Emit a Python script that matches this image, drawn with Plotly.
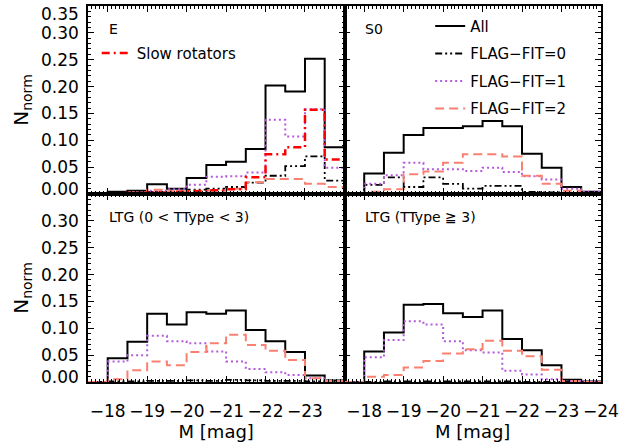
import plotly.graph_objects as go
from plotly.subplots import make_subplots

# ---------------- data ----------------
bin_edges = [-17.5, -18.0, -18.5, -19.0, -19.5, -20.0, -20.5,
             -21.0, -21.5, -22.0, -22.5, -23.0, -23.5, -24.0]

# E panel
e_all   = [0.000, 0.004, 0.006, 0.018, 0.010, 0.030, 0.054, 0.060, 0.084, 0.202, 0.191, 0.252, 0.087]
e_flag0 = [0.000, 0.001, 0.002, 0.004, 0.004, 0.008, 0.010, 0.013, 0.021, 0.034, 0.052, 0.070, 0.025]
e_flag1 = [0.000, 0.002, 0.003, 0.006, 0.009, 0.017, 0.032, 0.033, 0.040, 0.138, 0.107, 0.158, 0.049]
e_flag2 = [0.000, 0.002, 0.003, 0.008, 0.005, 0.006, 0.006, 0.010, 0.022, 0.028, 0.028, 0.019, 0.013]
e_slow  = [0.000, 0.001, 0.002, 0.003, 0.004, 0.005, 0.007, 0.009, 0.031, 0.074, 0.087, 0.157, 0.064]

# S0 panel
s0_all   = [0.000, 0.038, 0.077, 0.110, 0.123, 0.123, 0.126, 0.136, 0.126, 0.075, 0.049, 0.013, 0.004]
s0_flag0 = [0.000, 0.017, 0.031, 0.013, 0.031, 0.019, 0.010, 0.015, 0.015, 0.004, 0.003, 0.001, 0.000]
s0_flag1 = [0.000, 0.019, 0.035, 0.058, 0.046, 0.046, 0.043, 0.049, 0.041, 0.033, 0.027, 0.010, 0.004]
s0_flag2 = [0.001, 0.004, 0.009, 0.037, 0.042, 0.058, 0.074, 0.074, 0.070, 0.034, 0.019, 0.006, 0.002]

# LTG (0 < TType < 3)
l1_all   = [0.000, 0.044, 0.075, 0.127, 0.107, 0.130, 0.127, 0.133, 0.097, 0.076, 0.056, 0.012, 0.003]
l1_flag0 = [0.000, 0.001, 0.001, 0.002, 0.002, 0.003, 0.002, 0.004, 0.003, 0.002, 0.002, 0.001, 0.001]
l1_flag1 = [0.000, 0.038, 0.050, 0.086, 0.076, 0.072, 0.057, 0.038, 0.024, 0.018, 0.013, 0.007, 0.002]
l1_flag2 = [0.000, 0.005, 0.022, 0.038, 0.031, 0.056, 0.072, 0.088, 0.069, 0.058, 0.041, 0.007, 0.002]

# LTG (TType >= 3)
l2_all   = [0.000, 0.057, 0.092, 0.144, 0.145, 0.128, 0.121, 0.133, 0.080, 0.059, 0.031, 0.004, 0.001]
l2_flag0 = [0.000, 0.000, 0.001, 0.001, 0.001, 0.001, 0.001, 0.001, 0.001, 0.000, 0.000, 0.000, 0.000]
l2_flag1 = [0.000, 0.046, 0.078, 0.113, 0.107, 0.076, 0.059, 0.055, 0.021, 0.014, 0.005, 0.002, 0.001]
l2_flag2 = [0.000, 0.010, 0.013, 0.027, 0.039, 0.053, 0.061, 0.077, 0.058, 0.048, 0.023, 0.002, 0.000]

panel_labels = ["E", "S0", "LTG (0 < TType < 3)", "LTG (TType \u2267 3)"]
series_names = ["All", "FLAG\u2212FIT=0", "FLAG\u2212FIT=1", "FLAG\u2212FIT=2"]
slow_name = "Slow rotators"

x_tick_vals_left = [-18, -19, -20, -21, -22, -23]
x_tick_vals_right = [-18, -19, -20, -21, -22, -23, -24]
y_tick_vals = [0.05, 0.10, 0.15, 0.20, 0.25, 0.30]
y_tick_text = ["0.05", "0.10", "0.15", "0.20", "0.25", "0.30"]
y_end_labels = ["0.35", "0.00"]

x_title = "M [mag]"
y_title = "N<sub>norm</sub>"

# ---------------- styles ----------------
FONT = "DejaVu Sans"
TICK_SIZE = 17
styles = [
    dict(color="black", dash="solid", width=2),
    dict(color="black", dash="7px,3px,2px,3px,2px,3px", width=1.8),
    dict(color="#B45ADB", dash="2px,3px", width=2),
    dict(color="#FA8072", dash="9px,5px", width=2),
]
slow_style = dict(color="#FF0000", dash="8px,4px,2px,4px", width=2.5)

panels = [
    (1, 1, [e_all, e_flag0, e_flag1, e_flag2]),
    (1, 2, [s0_all, s0_flag0, s0_flag1, s0_flag2]),
    (2, 1, [l1_all, l1_flag0, l1_flag1, l1_flag2]),
    (2, 2, [l2_all, l2_flag0, l2_flag1, l2_flag2]),
]

fig = make_subplots(rows=2, cols=2, horizontal_spacing=0, vertical_spacing=0)


def step(vals):
    return list(vals) + [vals[-1]]


def mag_label(v):
    return "\u2212" + str(abs(v))


for (r, c, series) in panels:
    for k, vals in enumerate(series):
        fig.add_trace(go.Scatter(
            x=bin_edges, y=step(vals), mode="lines", line_shape="hv",
            line=styles[k], name=series_names[k],
            showlegend=(r == 1 and c == 2), legendgroup=f"g{k}",
            legend="legend",
        ), row=r, col=c)
    if r == 1 and c == 1:
        fig.add_trace(go.Scatter(
            x=bin_edges, y=step(e_slow), mode="lines", line_shape="hv",
            line=slow_style, name=slow_name, showlegend=True,
            legend="legend2",
        ), row=r, col=c)

axis_common = dict(
    showline=True, linecolor="black", linewidth=1.5, mirror="ticks",
    ticks="inside", ticklen=6, tickwidth=1.3, tickcolor="black",
    showgrid=False, zeroline=False,
    tickfont=dict(family=FONT, size=TICK_SIZE, color="black"),
)

for i, (r, c, _) in enumerate(panels):
    xt = x_tick_vals_left if c == 1 else x_tick_vals_right
    fig.update_xaxes(
        range=[bin_edges[0], bin_edges[-1] - 0.002],
        tickmode="array", tickvals=xt, ticktext=[mag_label(v) for v in xt],
        showticklabels=(r == 2), tickangle=0,
        minor=dict(ticks="inside", ticklen=3, tickwidth=1, tickcolor="black", dtick=0.1),
        ticklabelstandoff=13,
        row=r, col=c, **axis_common)
    if r == 2:
        fig.update_xaxes(title=dict(text=x_title, font=dict(family=FONT, size=18, color="black"), standoff=4),
                         row=r, col=c)
    fig.update_yaxes(
        range=[0, 0.35], tickmode="array", tickvals=y_tick_vals, ticktext=y_tick_text,
        showticklabels=(c == 1),
        minor=dict(ticks="inside", ticklen=3, tickwidth=1, tickcolor="black", dtick=0.01),
        ticklabelstandoff=4,
        row=r, col=c, **axis_common)
    if c == 1:
        fig.update_yaxes(title=dict(text=y_title, font=dict(family=FONT, size=20, color="black"), standoff=7),
                         row=r, col=c)

# end labels of y axes shifted inside the panels
end_labels = [("y domain", y_end_labels[0], 1 - 7.8 / 189), ("y domain", y_end_labels[1], 5.3 / 189),
              ("y3 domain", y_end_labels[1], 5.3 / 189)]
for yref, txt, yy in end_labels:
    fig.add_annotation(xref="paper", yref=yref, x=0, y=yy, text=txt, showarrow=False,
                       xanchor="right", yanchor="middle", xshift=-7,
                       font=dict(family=FONT, size=TICK_SIZE, color="black"))

# panel labels
label_pos = [("x domain", "y domain"), ("x2 domain", "y2 domain"),
             ("x3 domain", "y3 domain"), ("x4 domain", "y4 domain")]
for (xr, yr), txt in zip(label_pos, panel_labels):
    fig.add_annotation(xref=xr, yref=yr, x=19 / 257, y=1 - 23 / 189, text=txt,
                       showarrow=False, xanchor="left", yanchor="middle",
                       font=dict(family=FONT, size=14, color="black"))

fig.update_layout(
    width=623, height=443,
    margin=dict(l=88, r=20, t=4, b=61),
    paper_bgcolor="white", plot_bgcolor="white",
    font=dict(family=FONT, size=14, color="black"),
    legend=dict(x=0.667, y=0.99, xanchor="left", yanchor="top",
                bgcolor="rgba(0,0,0,0)", tracegroupgap=5,
                font=dict(family=FONT, size=15, color="black"), itemwidth=30),
    legend2=dict(x=0.017, y=0.918, xanchor="left", yanchor="top",
                 bgcolor="rgba(0,0,0,0)",
                 font=dict(family=FONT, size=15, color="black"), itemwidth=30),
)

fig.write_html("out.html")
